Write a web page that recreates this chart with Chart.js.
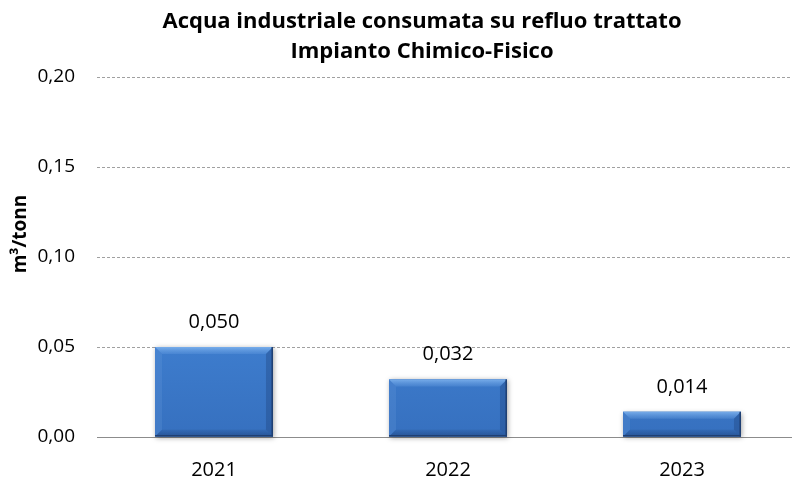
<!DOCTYPE html>
<html>
<head>
<meta charset="utf-8">
<script src="https://cdn.jsdelivr.net/npm/chart.js@4/dist/chart.umd.min.js"></script>
<style>
html,body{margin:0;padding:0;overflow:hidden;background:#fff;}
#wrap{width:802px;height:481px;}
</style>
</head>
<body>
<div id="wrap"><canvas id="c" width="802" height="481"></canvas></div>
<script>
const categories = ["2021", "2022", "2023"];
const values = [0.050, 0.032, 0.014];
const yTicks = [0, 0.05, 0.10, 0.15, 0.20];
const titleLines = ["Acqua industriale consumata su refluo trattato", "Impianto Chimico-Fisico"];
const yTitle = "m³/tonn";

const FONT = "'Open Sans', sans-serif";
const fmt = (v, d) => v.toFixed(d).replace('.', ',');

function barRects(chart) {
  return chart.getDatasetMeta(0).data.map(bar => {
    const {x, y, base, width} = bar.getProps(['x','y','base','width'], true);
    return {l: x - width/2, r: x + width/2, t: y, b: base, x, width};
  });
}

const textPlugin = {
  id: 'texts',
  afterDraw(chart) {
    const ctx = chart.ctx;
    ctx.save();
    ctx.fillStyle = '#000';
    ctx.font = "bold 22px " + FONT;
    ctx.textAlign = 'center';
    ctx.textBaseline = 'alphabetic';
    ctx.fillText(titleLines[0], 422, 28);
    ctx.fillText(titleLines[1], 422, 58);
    ctx.translate(26, 234);
    ctx.rotate(-Math.PI / 2);
    ctx.font = "bold 19px " + FONT;
    ctx.fillText(yTitle, 0, 0);
    ctx.restore();
  }
};

const bevelPlugin = {
  id: 'bevel',
  beforeDatasetsDraw(chart) {
    const ctx = chart.ctx;
    barRects(chart).forEach(R => {
      ctx.save();
      ctx.shadowColor = 'rgba(0,0,0,0.35)';
      ctx.shadowBlur = 5;
      ctx.shadowOffsetX = 1;
      ctx.shadowOffsetY = 1;
      ctx.fillStyle = '#3a78c8';
      ctx.fillRect(R.l, R.t, R.width, R.b - R.t);
      ctx.restore();
    });
  },
  afterDatasetsDraw(chart) {
    const ctx = chart.ctx;
    barRects(chart).forEach((R, i) => {
      const {l, r, t, b} = R;
      const e = Math.min(7, (b - t) / 2);
      ctx.save();
      let g = ctx.createLinearGradient(0, t, 0, t + e);
      g.addColorStop(0, 'rgba(140,190,245,0.75)');
      g.addColorStop(1, 'rgba(110,165,230,0.25)');
      ctx.fillStyle = g;
      ctx.beginPath(); ctx.moveTo(l,t); ctx.lineTo(r,t); ctx.lineTo(r-e,t+e); ctx.lineTo(l+e,t+e); ctx.closePath(); ctx.fill();
      ctx.fillStyle = 'rgba(110,160,225,0.22)';
      ctx.beginPath(); ctx.moveTo(l,t); ctx.lineTo(l+e,t+e); ctx.lineTo(l+e,b-e); ctx.lineTo(l,b); ctx.closePath(); ctx.fill();
      ctx.fillStyle = 'rgba(20,50,100,0.28)';
      ctx.beginPath(); ctx.moveTo(r,t); ctx.lineTo(r-e,t+e); ctx.lineTo(r-e,b-e); ctx.lineTo(r,b); ctx.closePath(); ctx.fill();
      g = ctx.createLinearGradient(0, b - e, 0, b);
      g.addColorStop(0, 'rgba(20,50,100,0.1)');
      g.addColorStop(1, 'rgba(20,50,100,0.45)');
      ctx.fillStyle = g;
      ctx.beginPath(); ctx.moveTo(l,b); ctx.lineTo(r,b); ctx.lineTo(r-e,b-e); ctx.lineTo(l+e,b-e); ctx.closePath(); ctx.fill();
      ctx.fillStyle = '#1f3f72';
      ctx.fillRect(r - 1.5, t, 1.5, b - t);
      ctx.fillRect(l, b - 1.5, R.width, 1.5);
      ctx.fillStyle = '#000';
      ctx.font = "20px " + FONT;
      ctx.textAlign = 'center';
      ctx.textBaseline = 'middle';
      ctx.fillText(fmt(values[i], 3), R.x, t - 25);
      ctx.restore();
    });
  }
};

new Chart(document.getElementById('c'), {
  type: 'bar',
  data: {
    labels: categories,
    datasets: [{
      data: values,
      backgroundColor: (c) => {
        const ca = c.chart.chartArea;
        if (!ca) return '#3a78c8';
        const g = c.chart.ctx.createLinearGradient(0, ca.top + 250, 0, ca.bottom);
        g.addColorStop(0, '#3f7fd0');
        g.addColorStop(1, '#3670bf');
        return g;
      },
      borderWidth: 0,
      barPercentage: 0.504,
      categoryPercentage: 1.0
    }]
  },
  options: {
    responsive: false,
    animation: false,
    devicePixelRatio: 1,
    layout: { padding: { left: 8, right: 3, top: 77, bottom: 0 } },
    plugins: {
      legend: { display: false },
      tooltip: { enabled: false },
      title: { display: false }
    },
    scales: {
      x: {
        grid: { display: false, drawTicks: false },
        border: { display: true, color: '#8c8c8c', width: 1 },
        ticks: { color: '#000', font: { family: FONT, size: 20 }, padding: 21 },
        afterFit: (s) => { s.height = 44; }
      },
      y: {
        min: 0, max: 0.20,
        afterBuildTicks: (s) => { s.ticks = yTicks.map(v => ({ value: v })); },
        grid: { color: '#a0a0a0', drawTicks: false, lineWidth: 1 },
        border: { display: false, dash: [3, 2] },
        ticks: { color: '#000', font: { family: FONT, size: 19 }, padding: 22, callback: (v) => fmt(v, 2) },
        afterFit: (s) => { s.width = 89; }
      }
    }
  },
  plugins: [bevelPlugin, textPlugin]
});
</script>
</body>
</html>
